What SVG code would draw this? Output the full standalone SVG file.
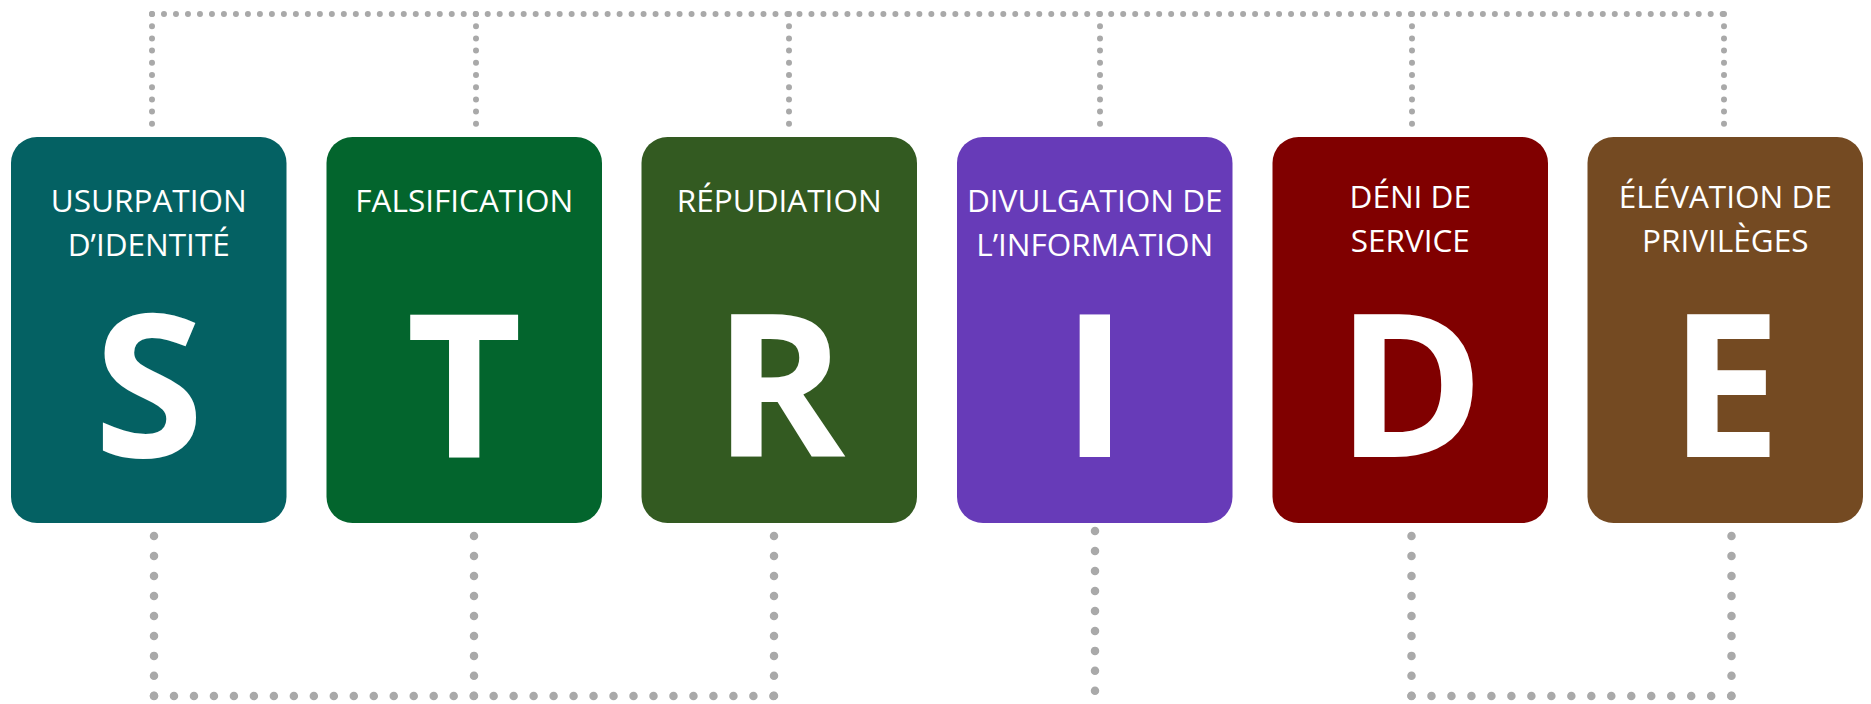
<svg xmlns="http://www.w3.org/2000/svg" width="1871" height="704" viewBox="0 0 1871 704">
<style>
.box{stroke:none}
.lbl{font-family:"Open Sans","Liberation Sans",sans-serif;font-size:31.5px;fill:#ffffff;text-anchor:middle}
.big{font-family:"Open Sans","Liberation Sans",sans-serif;font-weight:bold;font-size:200px;fill:#ffffff;text-anchor:middle}
.dt{fill:none;stroke:#a9a9a9;stroke-width:6;stroke-linecap:round;stroke-dasharray:0 11.99}
.dtv{fill:none;stroke:#a9a9a9;stroke-width:6;stroke-linecap:round;stroke-dasharray:0 12.2}
.db{fill:none;stroke:#a9a9a9;stroke-width:8.5;stroke-linecap:round;stroke-dasharray:0 19.98}
</style>
<rect width="1871" height="704" fill="#ffffff"/>
<g id="connectors">
<path class="dt" d="M152 14 H1724"/>
<path class="dtv" d="M152 14 V124"/>
<path class="dtv" d="M476 14 V124"/>
<path class="dtv" d="M789 14 V124"/>
<path class="dtv" d="M1100 14 V124"/>
<path class="dtv" d="M1412 14 V124"/>
<path class="dtv" d="M1724 14 V124"/>
<path class="db" d="M154 536 V696"/>
<path class="db" d="M474 536 V696"/>
<path class="db" d="M774 536 V696"/>
<path class="db" d="M154 696 H774"/>
<path class="db" d="M1095 531 V691"/>
<path class="db" d="M1411.5 536 V696"/>
<path class="db" d="M1731.5 536 V696"/>
<path class="db" d="M1411.5 696 H1731.5"/>
</g>
<g id="node-s">
<rect class="box" x="11" y="137" width="275.5" height="386" rx="26" fill="#046163"/>
<text class="lbl" x="148.75" y="211.7">USURPATION</text>
<text class="lbl" x="148.75" y="256">D’IDENTITÉ</text>
<text class="big" x="148.75" y="457">S</text>
</g>
<g id="node-t">
<rect class="box" x="326.5" y="137" width="275.5" height="386" rx="26" fill="#03652d"/>
<text class="lbl" x="464.25" y="211.7">FALSIFICATION</text>
<text class="big" x="464.25" y="457">T</text>
</g>
<g id="node-r">
<rect class="box" x="641.5" y="137" width="275.5" height="386" rx="26" fill="#335a21"/>
<text class="lbl" x="779.25" y="211.7">RÉPUDIATION</text>
<text class="big" x="779.25" y="457">R</text>
</g>
<g id="node-i">
<rect class="box" x="957" y="137" width="275.5" height="386" rx="26" fill="#673bb8"/>
<text class="lbl" x="1094.75" y="211.7">DIVULGATION DE</text>
<text class="lbl" x="1094.75" y="256">L’INFORMATION</text>
<text class="big" x="1094.75" y="457">I</text>
</g>
<g id="node-d">
<rect class="box" x="1272.5" y="137" width="275.5" height="386" rx="26" fill="#800000"/>
<text class="lbl" x="1410.25" y="208">DÉNI DE</text>
<text class="lbl" x="1410.25" y="251.7">SERVICE</text>
<text class="big" x="1410.25" y="457">D</text>
</g>
<g id="node-e">
<rect class="box" x="1587.5" y="137" width="275.5" height="386" rx="26" fill="#744a22"/>
<text class="lbl" x="1725.25" y="208">ÉLÉVATION DE</text>
<text class="lbl" x="1725.25" y="251.7">PRIVILÈGES</text>
<text class="big" x="1725.25" y="457">E</text>
</g>
</svg>
